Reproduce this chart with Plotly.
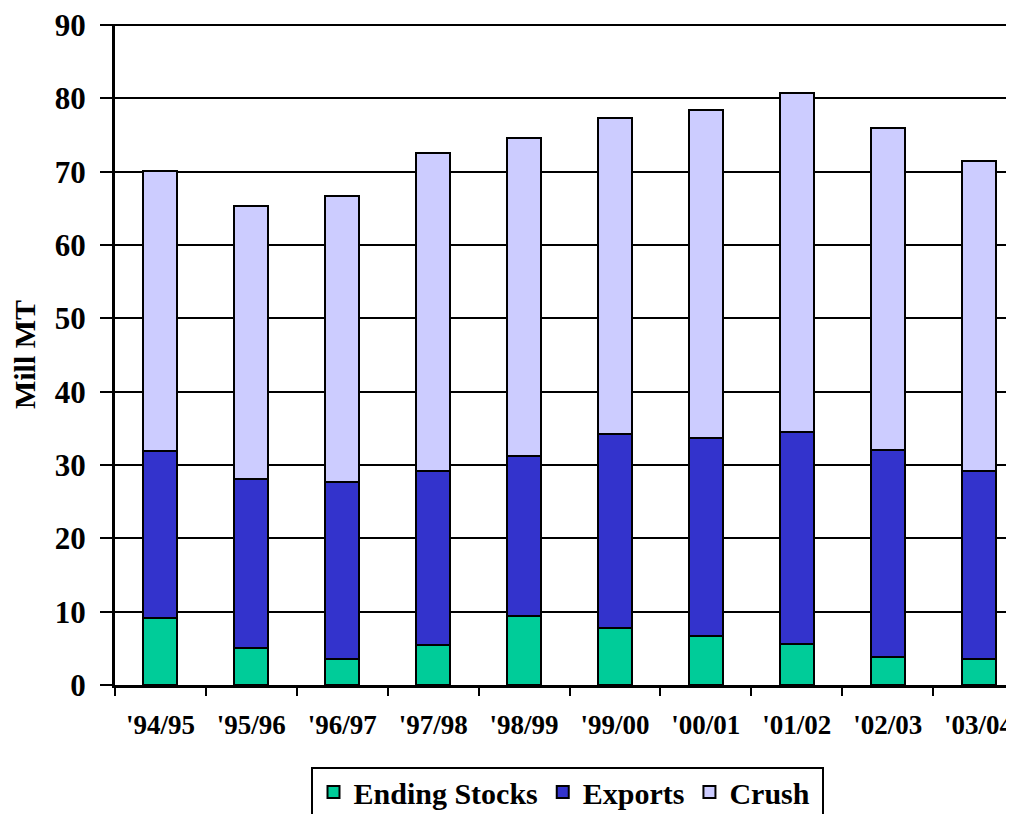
import plotly.graph_objects as go

seasons = ["'94/95", "'95/96", "'96/97", "'97/98", "'98/99",
           "'99/00", "'00/01", "'01/02", "'02/03", "'03/04"]
ending_stocks = [9.1, 5.0, 3.5, 5.4, 9.4, 7.8, 6.7, 5.6, 3.8, 3.6]
exports = [22.8, 23.05, 24.2, 23.8, 21.9, 26.5, 27.0, 28.9, 28.2, 25.6]
crush = [38.2, 37.25, 39.0, 43.3, 43.3, 43.0, 44.7, 46.3, 44.0, 42.2]
y_ticks = [0, 10, 20, 30, 40, 50, 60, 70, 80, 90]

FONT = "Liberation Serif, Times New Roman, serif"

# page body has an 8px margin; figure sized/positioned to compensate
W, H = 1006, 814
ML = 107
PLOT_BOTTOM = 677
PX_PER_UNIT = 660 / 90
Y_MAX = 90.15
MT = PLOT_BOTTOM - Y_MAX * PX_PER_UNIT
paper_h = H - MT
paper_w = W - ML

fig = go.Figure()
for name, vals, col in [("Ending Stocks", ending_stocks, "#00CC99"),
                        ("Exports", exports, "#3333CC"),
                        ("Crush", crush, "#CCCCFF")]:
    fig.add_trace(go.Bar(
        x=seasons, y=vals, name=name,
        marker=dict(color=col, line=dict(color="black", width=2)),
        hoverinfo="skip",
    ))

# legend frame
fig.add_shape(type="rect", xref="paper", yref="paper",
              x0=(304 - ML) / paper_w, x1=(815 - ML) / paper_w,
              y0=(H - 760) / paper_h, y1=-0.02,
              line=dict(color="black", width=2), fillcolor="white", layer="below")
# top gridline (at the axis maximum tick)
fig.add_shape(type="line", xref="paper", yref="y", x0=0, x1=1,
              y0=y_ticks[-1], y1=y_ticks[-1],
              line=dict(color="black", width=2), layer="below")

fig.update_layout(
    width=W, height=H,
    barmode="stack", bargap=0.625,
    margin=dict(l=ML, r=0, t=MT, b=0, pad=0),
    plot_bgcolor="white", paper_bgcolor="white",
    font=dict(family=FONT, color="black", size=27, weight=700),
    showlegend=True,
    legend=dict(
        orientation="h", x=0.5, xanchor="center", y=(H - 810) / paper_h, yanchor="bottom",
        font=dict(family=FONT, size=30, color="black", weight=700),
        borderwidth=0, bgcolor="rgba(0,0,0,0)",
        traceorder="normal", itemwidth=30,
    ),
    xaxis=dict(
        type="category", range=[-0.5, 9.39], automargin=False,
        showline=True, linecolor="black", linewidth=3,
        ticks="outside", tickson="boundaries", ticklen=8, tickwidth=2, tickcolor="black",
        tickfont=dict(family=FONT, size=27, color="black", weight=700),
        ticklabelstandoff=14, ticklabeloverflow="allow",
        showgrid=False, anchor="y",
    ),
    yaxis=dict(
        domain=[(H - PLOT_BOTTOM) / paper_h, 1],
        range=[0, Y_MAX], tickvals=y_ticks, automargin=False,
        showline=True, linecolor="black", linewidth=3,
        ticks="outside", ticklen=12, tickwidth=2, tickcolor="black",
        showgrid=True, gridcolor="black", gridwidth=2,
        zeroline=False,
        tickfont=dict(family=FONT, size=31, color="black", weight=700),
        ticklabelstandoff=8, ticklabeloverflow="allow",
        title=dict(text="Mill MT", font=dict(family=FONT, size=30, color="black", weight=700),
                   standoff=12),
    ),
)

fig.write_html("out.html",
               post_script="document.documentElement.style.overflow='hidden';"
                           "document.body.style.overflow='hidden';")
